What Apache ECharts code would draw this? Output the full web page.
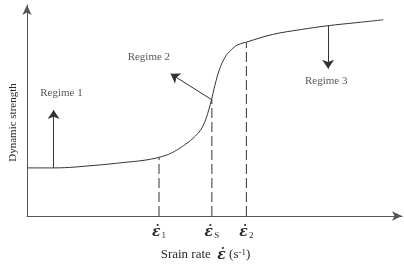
<!DOCTYPE html>
<html>
<head>
<meta charset="utf-8">
<script src="https://cdn.jsdelivr.net/npm/echarts@6/dist/echarts.min.js"></script>
<style>
    html, body { margin: 0; padding: 0; background: #fff; }
    #main { width: 404px; height: 267px; }
</style>
</head>
<body>
<div id="main"></div>
<script>
    // 曲线数据 (arbitrary units, 0-100)
    var curveX = [0, 7.1, 18.1, 26.0, 31.2, 35.2, 37.8, 39.9, 41.7, 43.6, 44.9, 46.2, 47.0, 47.8, 49.1, 50.1, 51.4, 53.0, 54.3, 55.6, 56.9, 58.3, 65.4, 73.2, 80.3, 87.7, 95.0];
    var curveY = [22.8, 22.8, 24.0, 25.4, 26.4, 27.8, 29.3, 31.2, 33.3, 35.8, 37.9, 40.5, 43.0, 46.5, 54.4, 61.9, 69.8, 75.8, 78.4, 80.5, 81.6, 82.3, 86.0, 88.4, 90.2, 91.6, 93.0];

    // 特征应变率
    var tickValues = [35.2, 49.3, 58.5];
    var tickSubs = ['1', 'S', '2'];
    var tickTops = [27.8, 55.3, 82.3];

    // 区域标注
    var regimeNames = ['Regime 1', 'Regime 2', 'Regime 3'];
    var regimeX = [9.2, 32.5, 79.8];
    var regimeY = [58.1, 75.3, 63.7];

    // 箭头 [起点, 终点]
    var arrowFrom = [[7.1, 22.8], [49.1, 55.3], [80.3, 90.2]];
    var arrowTo = [[7.1, 50.2], [38.3, 67.4], [80.3, 69.8]];

    var lineColor = '#333';
    var fontFamily = 'Liberation Serif';

    var chart = echarts.init(document.getElementById('main'));

    var curveData = curveX.map(function(x, i) {
        return [x, curveY[i]];
    });

    var series = [{
        type: 'line',
        data: curveData,
        smooth: 0.4,
        symbol: 'none',
        lineStyle: { color: lineColor, width: 1 },
        z: 3
    }];

    // 虚线
    tickValues.forEach(function(x, i) {
        series.push({
            type: 'line',
            data: [[x, 0], [x, tickTops[i]]],
            symbol: 'none',
            lineStyle: { color: lineColor, width: 1, type: [10, 4] }
        });
    });

    // 箭头
    series.push({
        type: 'lines',
        coordinateSystem: 'cartesian2d',
        symbol: ['none', 'arrow'],
        symbolSize: [5, 9],
        lineStyle: { color: lineColor, width: 1, opacity: 1 },
        data: arrowFrom.map(function(p, i) {
            return { coords: [p, arrowTo[i]] };
        })
    });

    // 文字标注
    series.push({
        type: 'scatter',
        symbolSize: 0,
        data: regimeX.map(function(x, i) {
            return { value: [x, regimeY[i]], name: regimeNames[i] };
        }),
        label: {
            show: true,
            position: 'inside',
            formatter: '{b}',
            color: '#2a2a2a',
            fontFamily: fontFamily,
            fontSize: 11
        },
        silent: true
    });

    var option = {
        animation: false,
        grid: { left: 21, right: 2, top: 5, bottom: 47 },
        xAxis: {
            type: 'value',
            min: 0,
            max: 100,
            name: 'Srain rate  {e|ε̇} {n|(s}{sup|-1}{n|)}',
            nameLocation: 'middle',
            nameGap: 32,
            nameTextStyle: {
                color: '#2a2a2a',
                fontFamily: fontFamily,
                fontSize: 13,
                padding: [0, 18, 0, 0],
                rich: {
                    e: { fontFamily: 'DejaVu Serif', fontStyle: 'italic', fontWeight: 'bold', fontSize: 14, color: '#2a2a2a' },
                    n: { fontFamily: fontFamily, fontSize: 13, color: '#2a2a2a' },
                    sup: { fontFamily: fontFamily, fontSize: 9, color: '#2a2a2a', verticalAlign: 'top', padding: [0, 0, 5, 0] }
                }
            },
            axisLine: {
                lineStyle: { color: '#555', width: 1 },
                symbol: ['none', 'arrow'],
                symbolSize: [7, 10]
            },
            axisTick: { show: false },
            splitLine: { show: false },
            axisLabel: {
                customValues: tickValues,
                margin: 9,
                formatter: function(v) {
                    var i = tickValues.indexOf(v);
                    return '{e|ε̇}{sub|' + tickSubs[i] + '}';
                },
                rich: {
                    e: { fontFamily: 'DejaVu Serif', fontStyle: 'italic', fontWeight: 'bold', fontSize: 14, color: '#2a2a2a' },
                    sub: { fontFamily: fontFamily, fontSize: 9, color: '#2a2a2a', verticalAlign: 'bottom', padding: [6, 0, 0, 1] }
                }
            }
        },
        yAxis: {
            type: 'value',
            min: 0,
            max: 100,
            name: 'Dynamic strength',
            nameLocation: 'middle',
            nameRotate: 90,
            nameGap: 8,
            nameTextStyle: {
                color: '#2a2a2a',
                fontFamily: fontFamily,
                fontSize: 11,
                padding: [0, 24, 0, 0]
            },
            axisLine: {
                lineStyle: { color: '#555', width: 1 },
                symbol: ['none', 'arrow'],
                symbolSize: [7, 10]
            },
            axisTick: { show: false },
            axisLabel: { show: false },
            splitLine: { show: false }
        },
        series: series
    };

    chart.setOption(option);
</script>
</body>
</html>
